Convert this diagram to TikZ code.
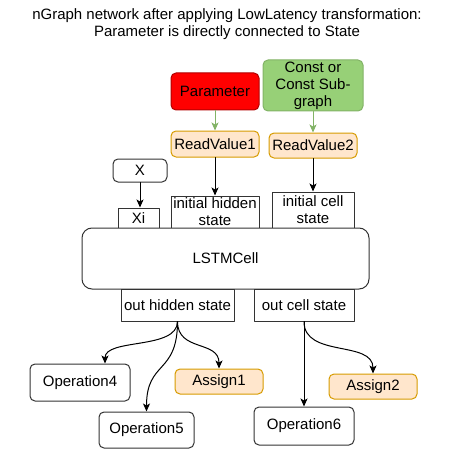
\documentclass[tikz,border=0pt]{standalone}
\usepackage{fontspec}
\setmainfont{Liberation Sans}
\usetikzlibrary{arrows.meta}
\usetikzlibrary{positioning}
\definecolor{paramfill}{HTML}{FF0000}
\definecolor{paramline}{HTML}{B20000}
\definecolor{constfill}{HTML}{97D077}
\definecolor{constline}{HTML}{82B366}
\definecolor{readfill}{HTML}{FFE6CC}
\definecolor{readline}{HTML}{D79B00}
\begin{document}
\begin{tikzpicture}[line cap=round,line join=round,>={Stealth[length=8pt,width=7pt,inset=2pt]},x=1pt,y=-1pt,
every node/.style={font=\fontsize{15}{17}\selectfont,inner sep=0pt,align=center},
box/.style={draw=black!80,line width=1pt,fill=white},
rbox/.style={box,rounded corners=5pt},
readbox/.style={rbox,draw=readline,fill=readfill},
link/.style={->,line width=1pt,black},
glink/.style={->,line width=1pt,constline}]
\useasboundingbox (0,0) rectangle (450,468);
\node (title) at (227,24) {nGraph network after applying LowLatency transformation:\\Parameter is directly connected to State};
\node[rbox,draw=paramline,fill=paramfill,minimum width=88,minimum height=37] (param) at (215,91.5) {Parameter};
\node[rbox,draw=constline,fill=constfill,minimum width=100,minimum height=51] (const) at (313,85.5) {Const or\\Const Sub-\\graph};
\node[readbox,minimum width=88,minimum height=26] (rv1) at (215,144) {ReadValue1};
\node[readbox,minimum width=88,minimum height=25] (rv2) at (313,145.5) {ReadValue2};
\node[rbox,minimum width=54,minimum height=23] (x) at (140,170.5) {X};
\node[box,minimum width=41,minimum height=20] (xi) at (138.5,218) {Xi};
\node[box,minimum width=88,minimum height=32] (ihs) at (215,212) {initial hidden\\state};
\node[box,minimum width=82,minimum height=36] (ics) at (313,210) {initial cell\\state};
\node[box,rounded corners=10pt,minimum width=287,minimum height=61] (lstm) at (225.5,258.5) {LSTMCell};
\node[box,minimum width=113,minimum height=32] (ohs) at (177.5,305) {out hidden state};
\node[box,minimum width=100,minimum height=32] (ocs) at (304,305) {out cell state};
\node[rbox,minimum width=100,minimum height=37] (op4) at (80,382.5) {Operation4};
\node[rbox,minimum width=95,minimum height=36] (op5) at (146.5,430) {Operation5};
\node[readbox,minimum width=88,minimum height=25] (as1) at (219,381.5) {Assign1};
\node[rbox,minimum width=100,minimum height=38] (op6) at (304,426) {Operation6};
\node[readbox,minimum width=88,minimum height=25] (as2) at (373,386.5) {Assign2};
\draw[glink] (param) -- (rv1);
\draw[glink] (const) -- (rv2);
\draw[link] (rv1) -- (ihs);
\draw[link] (rv2) -- (ics);
\draw[link] (x) -- (xi.north -| x.south);
\draw[link] (ohs.south) .. controls (177.5,350) and (105,338) .. ([xshift=25]op4.north);
\draw[link] (ohs.south) .. controls (177.5,375) and (146.5,360) .. (op5.north);
\draw[link] (ohs.south) .. controls (177.5,352) and (219,340) .. (as1.north);
\draw[link] (ocs) -- (op6);
\draw[link] (ocs.south) .. controls (304,358) and (373,340) .. (as2.north);
\end{tikzpicture}
\end{document}
